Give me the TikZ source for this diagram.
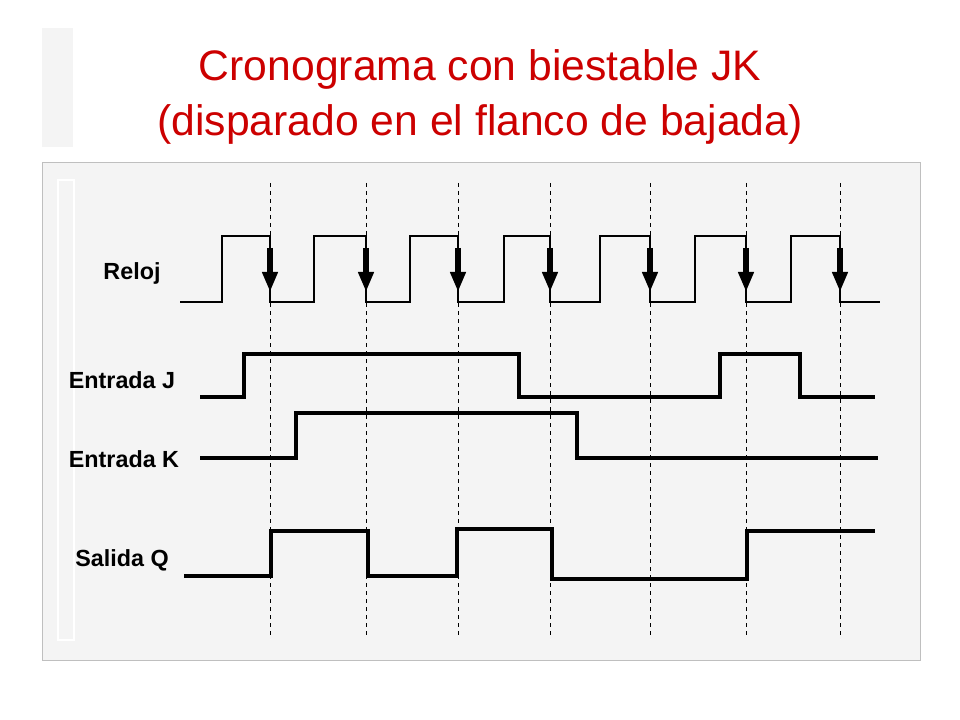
\documentclass[tikz,border=0pt]{standalone}
\usepackage{fontspec}
\setmainfont{Liberation Sans}
\usetikzlibrary{arrows.meta}
\definecolor{titlered}{HTML}{CC0000}
\definecolor{panelgray}{HTML}{F4F4F4}
\tikzset{
  signal/.style={line width=3.5pt},
  clk/.style={line width=1.5pt},
  siglabel/.style={font=\bfseries\fontsize{17.5}{20}\selectfont},
  edgearrow/.style={line width=4pt,-{Triangle[width=11pt,length=15pt]}},
}
\begin{document}
\begin{tikzpicture}[x=0.75pt,y=-0.75pt]
          \useasboundingbox (0,0) rectangle (960,720);
          \fill[white] (0,0) rectangle (960,720);
          \fill[panelgray] (42,28) rectangle (73,147);
          \filldraw[fill=panelgray,draw=black!25,line width=0.6pt] (42,162) rectangle (920,660);
          \draw[white,line width=1pt] (58,180) rectangle (74,640);
          \node[titlered,align=center,font=\fontsize{32}{41}\selectfont] (title) at (480,97)
            {Cronograma con biestable JK\\(disparado en el flanco de bajada)};
          % dashed guides on falling edges
          \foreach \x in {270,366,458,550,650,746,840}
            \draw[dashed,line width=0.6pt] (\x,183) -- (\x,636);
          % clock
          \draw[clk] (180,302) -- (222,302) -- (222,236) -- (270,236) -- (270,302)
            -- (314,302) -- (314,236) -- (366,236) -- (366,302)
            -- (410,302) -- (410,236) -- (458,236) -- (458,302)
            -- (504,302) -- (504,236) -- (550,236) -- (550,302)
            -- (600,302) -- (600,236) -- (650,236) -- (650,302)
            -- (695,302) -- (695,236) -- (746,236) -- (746,302)
            -- (791,302) -- (791,236) -- (840,236) -- (840,302) -- (880,302);
          \foreach \x in {270,366,458,550,650,746,840}
            \draw[edgearrow] (\x,248) -- (\x,292);
          % J
          \draw[signal] (200,397) -- (244,397) -- (244,354) -- (519,354) -- (519,397)
            -- (720,397) -- (720,354) -- (800,354) -- (800,397) -- (875,397);
          % K
          \draw[signal] (200,458) -- (296,458) -- (296,413) -- (577,413) -- (577,458) -- (878,458);
          % Q
          \draw[signal] (184,576) -- (271,576) -- (271,531) -- (368,531) -- (368,576)
            -- (457,576) -- (457,529) -- (552,529) -- (552,579) -- (747,579)
            -- (747,531) -- (875,531);
          \node[siglabel] (reloj) at (132,273) {Reloj};
          \node[siglabel] (entj) at (122,380) {Entrada J};
          \node[siglabel] (entk) at (124,459) {Entrada K};
          \node[siglabel] (salq) at (122,560) {Salida Q};
        \end{tikzpicture}
\end{document}
